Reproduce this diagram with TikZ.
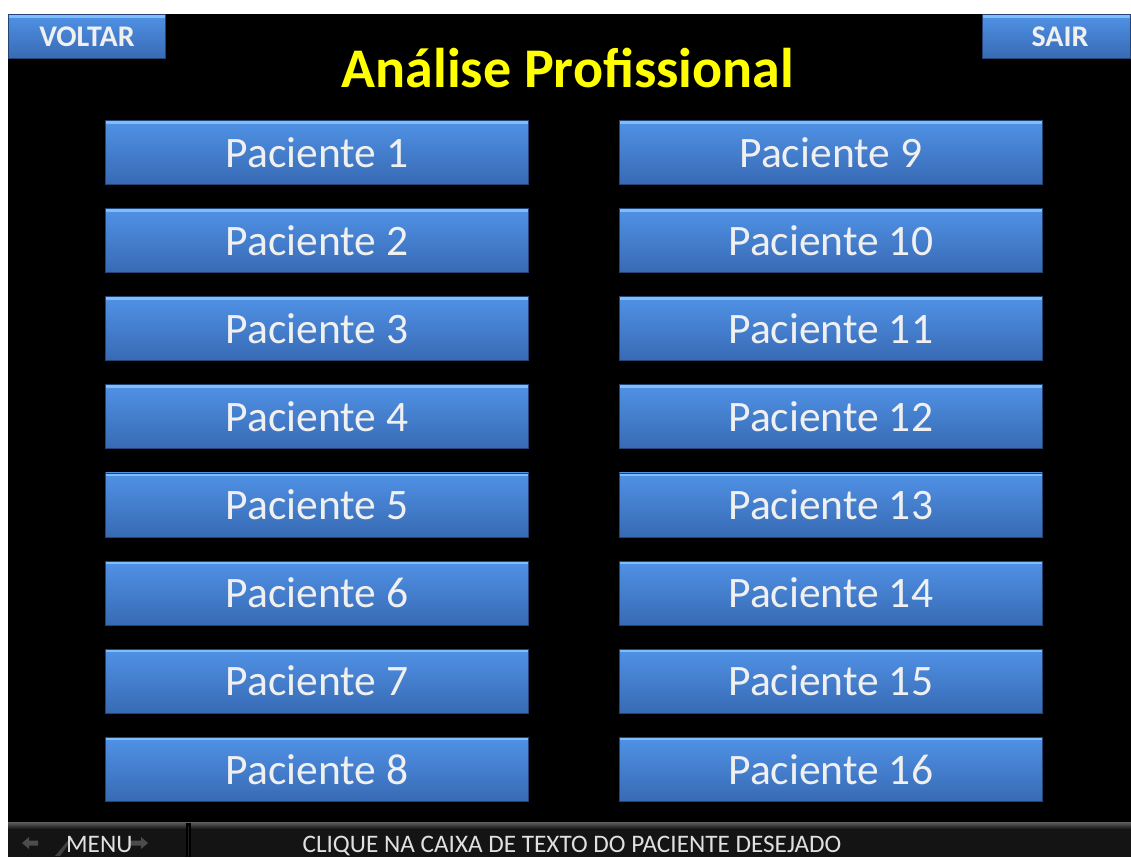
\documentclass[tikz,border=0pt]{standalone}
\usepackage{fontspec}
\setmainfont{Carlito}
\usetikzlibrary{positioning}

\definecolor{btntop}{RGB}{80,146,230}
\definecolor{btnbot}{RGB}{56,106,180}
\definecolor{btnedge}{RGB}{125,190,252}
\definecolor{btndark}{RGB}{36,68,118}
\definecolor{barfill}{RGB}{20,20,20}
\definecolor{baredge}{RGB}{95,95,95}
\definecolor{titleyellow}{RGB}{255,255,0}

\tikzset{
  btn/.style={rectangle,inner sep=0pt,top color=btntop,bottom color=btnbot,
              draw=btndark,line width=0.8pt,text=white!94!black,
              path picture={\fill[btnedge] (path picture bounding box.north west)
                  rectangle ([yshift=-3pt]path picture bounding box.north east);}},
  paciente/.style={btn,minimum width=423pt,minimum height=64pt,
                   font=\fontsize{43.5}{43.5}\selectfont},
  topbtn/.style={btn,minimum height=44pt,font=\bfseries\fontsize{30}{30}\selectfont},
  bartext/.style={text=white!88!black,inner sep=0pt,font=\fontsize{25.2}{25.2}\selectfont},
  icon/.style={fill=white!30!black}
}

\begin{document}
\begin{tikzpicture}[x=1pt,y=-1pt,node distance=23.3pt]

\useasboundingbox (0,0) rectangle (1131,857);
\fill[white] (0,0) rectangle (1131,857);
\fill[black] (8,14) rectangle (1131,857);

% top buttons and title
\node[topbtn,minimum width=157pt] (voltar) at (87,36.5) {VOLTAR};
\node[topbtn,minimum width=148pt] (sair) at (1056.5,36.5) {\hspace{7pt}SAIR};
\node[text=titleyellow,font=\bfseries\fontsize{56}{56}\selectfont,anchor=base] (title) at (568,87) {Análise Profissional};

% left column
\node[paciente] (p1) at (317,152.5) {Paciente 1};
\node[paciente,below=of p1] (p2) {Paciente 2};
\node[paciente,below=of p2] (p3) {Paciente 3};
\node[paciente,below=of p3] (p4) {Paciente 4};
\node[paciente,below=of p4] (p5) {Paciente 5};
\node[paciente,below=of p5] (p6) {Paciente 6};
\node[paciente,below=of p6] (p7) {Paciente 7};
\node[paciente,below=of p7] (p8) {Paciente 8};

% right column
\node[paciente,right=90pt of p1] (p9) {Paciente 9};
\node[paciente,below=of p9] (p10) {Paciente 10};
\node[paciente,below=of p10] (p11) {Paciente 11};
\node[paciente,below=of p11] (p12) {Paciente 12};
\node[paciente,below=of p12] (p13) {Paciente 13};
\node[paciente,below=of p13] (p14) {Paciente 14};
\node[paciente,below=of p14] (p15) {Paciente 15};
\node[paciente,below=of p15] (p16) {Paciente 16};

% bottom bar
\fill[barfill] (8,823) rectangle (1131,857);
\shade[top color=baredge,bottom color=barfill] (8,822) rectangle (1131,829);
\fill[black] (186,823) -- (191,823) -- (191,857) -- (186,857) -- cycle;
\fill[white!12!black] (188,826) rectangle (189,857);

\fill[icon] (22,843) -- (29,837) -- (29,840.5) -- (38,840.5) -- (38,845.5) -- (29,845.5) -- (29,849) -- cycle;
\fill[white!25!black] (55,856) -- (70,838) -- (73,838) -- (60,856) -- cycle;
\fill[icon] (148,843) -- (141,837) -- (141,840.5) -- (130,840.5) -- (130,845.5) -- (141,845.5) -- (141,849) -- cycle;
\node[bartext,anchor=base west] (menu) at (66,852) {MENU};
\node[bartext,anchor=base] (hint) at (572,852) {CLIQUE NA CAIXA DE TEXTO DO PACIENTE DESEJADO};

\end{tikzpicture}
\end{document}
